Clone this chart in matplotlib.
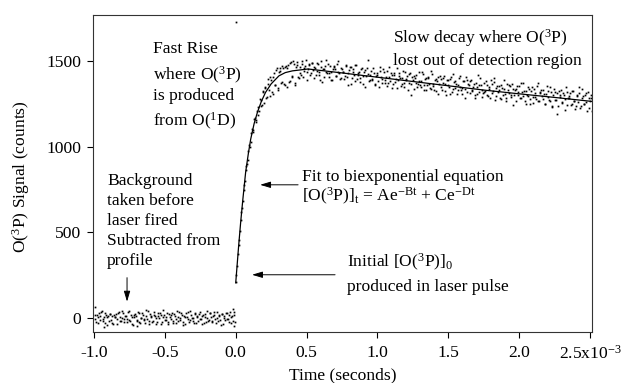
import numpy as np
import matplotlib
matplotlib.use("Agg")
import matplotlib.pyplot as plt

plt.rcParams['font.family'] = ['Liberation Serif', 'DejaVu Serif']
plt.rcParams['mathtext.fontset'] = 'custom'
plt.rcParams['mathtext.rm'] = 'Liberation Serif'
plt.rcParams['mathtext.it'] = 'Liberation Serif:italic'
plt.rcParams['font.size'] = 12.6

# background before the laser fires (time in ms)
bg_t = [-0.995, -0.985, -0.975, -0.965, -0.955, -0.945, -0.935, -0.925, -0.915, -0.905,
        -0.895, -0.885, -0.875, -0.865, -0.855, -0.845, -0.835, -0.825, -0.815, -0.805,
        -0.795, -0.785, -0.775, -0.765, -0.755, -0.745, -0.735, -0.725, -0.715, -0.705,
        -0.695, -0.685, -0.675, -0.665, -0.655, -0.645, -0.635, -0.625, -0.615, -0.605,
        -0.595, -0.585, -0.575, -0.565, -0.555, -0.545, -0.535, -0.525, -0.515, -0.505,
        -0.495, -0.485, -0.475, -0.465, -0.455, -0.445, -0.435, -0.425, -0.415, -0.405,
        -0.395, -0.385, -0.375, -0.365, -0.355, -0.345, -0.335, -0.325, -0.315, -0.305,
        -0.295, -0.285, -0.275, -0.265, -0.255, -0.245, -0.235, -0.225, -0.215, -0.205,
        -0.195, -0.185, -0.175, -0.165, -0.155, -0.145, -0.135, -0.125, -0.115, -0.105,
        -0.095, -0.085, -0.075, -0.065, -0.055, -0.045, -0.035, -0.025, -0.015, -0.005,
        -0.99, -0.93, -0.70, -0.02, -0.01]
bg_y = [15, -22, 8, 30, -12, 40, -5, -30, 18, 3,
        -18, 25, 10, -35, 5, 22, -8, 33, -15, 0,
        28, -25, 12, -4, 38, -20, 7, -42, 20, 14,
        -10, 30, -28, 2, 17, -14, 45, -6, -33, 24,
        9, -19, 35, -2, -26, 11, 27, -38, 6, 19,
        -12, 31, -23, 4, 16, -30, 22, -7, 42, -16,
        1, 26, -21, 13, -36, 8, 34, -11, 18, -3,
        -27, 21, 5, -15, 37, -9, 12, -32, 25, -1,
        -20, 29, 3, -24, 15, -6, 33, -18, 10, -40,
        23, 0, -13, 30, -8, 19, -29, 14, 36, -22,
        62, -55, -45, 55, -48]
bg_t2 = [-0.99, -0.98, -0.97, -0.96, -0.95, -0.94, -0.93, -0.92, -0.91, -0.90,
         -0.89, -0.88, -0.87, -0.86, -0.85, -0.84, -0.83, -0.82, -0.81, -0.80,
         -0.79, -0.78, -0.77, -0.76, -0.75, -0.74, -0.73, -0.72, -0.71, -0.70,
         -0.69, -0.68, -0.67, -0.66, -0.65, -0.64, -0.63, -0.62, -0.61, -0.60,
         -0.59, -0.58, -0.57, -0.56, -0.55, -0.54, -0.53, -0.52, -0.51, -0.50,
         -0.49, -0.48, -0.47, -0.46, -0.45, -0.44, -0.43, -0.42, -0.41, -0.40,
         -0.39, -0.38, -0.37, -0.36, -0.35, -0.34, -0.33, -0.32, -0.31, -0.30,
         -0.29, -0.28, -0.27, -0.26, -0.25, -0.24, -0.23, -0.22, -0.21, -0.20,
         -0.19, -0.18, -0.17, -0.16, -0.15, -0.14, -0.13, -0.12, -0.11, -0.10,
         -0.09, -0.08, -0.07, -0.06, -0.05, -0.04, -0.03, -0.02, -0.01]
bg_y2 = [-8, 20, -30, 12, 35, -18, 4, 26, -40, 10,
         22, -12, -28, 16, 3, -35, 30, 8, -20, 42,
         -5, 14, -24, 33, -10, 18, -38, 6, 25, -15,
         37, -22, 2, 28, -8, -30, 12, 40, -17, 5,
         -26, 20, 9, -34, 31, -3, 15, -21, 44, -12,
         7, -36, 24, -6, 29, -19, 11, -28, 3, 34,
         -14, 19, -40, 8, 26, -9, -23, 38, 1, -16,
         30, -31, 13, 22, -5, -37, 17, 6, -25, 41,
         -11, 27, -20, 9, 33, -29, 2, 18, -13, 24,
         -34, 10, 28, -7, -22, 36, 4, -18, 15]

# fast rise after the laser pulse
rise_t = [0.00, 0.01, 0.02, 0.03, 0.04, 0.05, 0.06, 0.07, 0.08, 0.09,
          0.10, 0.11, 0.12, 0.13, 0.14, 0.15, 0.16, 0.17, 0.18, 0.19,
          0.20, 0.21, 0.22, 0.23, 0.24, 0.25, 0.26, 0.27, 0.28, 0.29,
          0.30, 0.31, 0.32, 0.33, 0.34, 0.35, 0.36, 0.37, 0.38, 0.39,
          0.40, 0.41, 0.42, 0.43, 0.44, 0.00]
rise_y = [210, 302, 425, 509, 617, 680, 778, 866, 898, 975,
          997, 1080, 1085, 1160, 1143, 1210, 1187, 1275, 1237, 1322,
          1255, 1346, 1292, 1393, 1295, 1388, 1306, 1430, 1359, 1457,
          1330, 1444, 1371, 1473, 1364, 1467, 1345, 1477, 1384, 1493,
          1412, 1482, 1370, 1476, 1407, 1730]
rise_t2 = [0.005, 0.015, 0.025, 0.035, 0.045, 0.055, 0.065, 0.075, 0.085, 0.095,
           0.105, 0.115, 0.125, 0.135, 0.145, 0.155, 0.165, 0.175, 0.185, 0.195,
           0.205, 0.215, 0.225, 0.235, 0.245, 0.255, 0.265, 0.275, 0.285, 0.295,
           0.305, 0.315, 0.325, 0.335, 0.345, 0.355, 0.365, 0.375, 0.385, 0.395,
           0.405, 0.415, 0.425, 0.435, 0.445]
rise_y2 = [252, 371, 455, 572, 641, 744, 799, 889, 922, 1008,
           1024, 1102, 1098, 1165, 1153, 1233, 1210, 1271, 1240, 1316,
           1343, 1283, 1367, 1329, 1405, 1316, 1408, 1360, 1448, 1341,
           1433, 1460, 1375, 1457, 1358, 1471, 1461, 1378, 1488, 1406,
           1498, 1359, 1465, 1491, 1398]

# slow decay
decay_t = [0.45, 0.46, 0.47, 0.48, 0.49, 0.50, 0.51, 0.52, 0.53, 0.54,
           0.55, 0.56, 0.57, 0.58, 0.59, 0.60, 0.61, 0.62, 0.63, 0.64,
           0.65, 0.66, 0.67, 0.68, 0.69, 0.70, 0.71, 0.72, 0.73, 0.74,
           0.75, 0.76, 0.77, 0.78, 0.79, 0.80, 0.81, 0.82, 0.83, 0.84,
           0.85, 0.86, 0.87, 0.88, 0.89, 0.90, 0.91, 0.92, 0.93, 0.94,
           0.95, 0.96, 0.97, 0.98, 0.99, 1.00, 1.01, 1.02, 1.03, 1.04,
           1.05, 1.06, 1.07, 1.08, 1.09, 1.10, 1.11, 1.12, 1.13, 1.14,
           1.15, 1.16, 1.17, 1.18, 1.19, 1.20, 1.21, 1.22, 1.23, 1.24,
           1.25, 1.26, 1.27, 1.28, 1.29, 1.30, 1.31, 1.32, 1.33, 1.34,
           1.35, 1.36, 1.37, 1.38, 1.39, 1.40, 1.41, 1.42, 1.43, 1.44,
           1.45, 1.46, 1.47, 1.48, 1.49, 1.50, 1.51, 1.52, 1.53, 1.54,
           1.55, 1.56, 1.57, 1.58, 1.59, 1.60, 1.61, 1.62, 1.63, 1.64,
           1.65, 1.66, 1.67, 1.68, 1.69, 1.70, 1.71, 1.72, 1.73, 1.74,
           1.75, 1.76, 1.77, 1.78, 1.79, 1.80, 1.81, 1.82, 1.83, 1.84,
           1.85, 1.86, 1.87, 1.88, 1.89, 1.90, 1.91, 1.92, 1.93, 1.94,
           1.95, 1.96, 1.97, 1.98, 1.99, 2.00, 2.01, 2.02, 2.03, 2.04,
           2.05, 2.06, 2.07, 2.08, 2.09, 2.10, 2.11, 2.12, 2.13, 2.14,
           2.15, 2.16, 2.17, 2.18, 2.19, 2.20, 2.21, 2.22, 2.23, 2.24,
           2.25, 2.26, 2.27, 2.28, 2.29, 2.30, 2.31, 2.32, 2.33, 2.34,
           2.35, 2.36, 2.37, 2.38, 2.39, 2.40, 2.41, 2.42, 2.43, 2.44,
           2.45, 2.46, 2.47, 2.48, 2.49, 2.50, 2.51, 2.52]
decay_y = [1462, 1415, 1498, 1442, 1472, 1390, 1455, 1480, 1432, 1490,
           1403, 1460, 1440, 1483, 1420, 1500, 1375, 1455, 1473, 1433,
           1480, 1406, 1438, 1386, 1469, 1454, 1414, 1498, 1427, 1398,
           1452, 1433, 1412, 1475, 1362, 1447, 1462, 1399, 1436, 1383,
           1476, 1415, 1434, 1398, 1458, 1363, 1445, 1411, 1503, 1385,
           1420, 1390, 1458, 1368, 1412, 1430, 1346, 1439, 1397, 1453,
           1373, 1407, 1351, 1465, 1385, 1418, 1363, 1428, 1397, 1341,
           1431, 1403, 1367, 1442, 1345, 1397, 1414, 1373, 1427, 1300,
           1391, 1410, 1374, 1346, 1437, 1359, 1383, 1426, 1328, 1398,
           1361, 1406, 1342, 1439, 1367, 1330, 1394, 1385, 1308, 1410,
           1345, 1370, 1411, 1324, 1387, 1360, 1306, 1404, 1337, 1378,
           1384, 1305, 1358, 1412, 1333, 1344, 1380, 1286, 1386, 1364,
           1313, 1391, 1330, 1364, 1301, 1348, 1416, 1316, 1358, 1290,
           1371, 1324, 1360, 1298, 1335, 1388, 1313, 1377, 1273, 1344,
           1319, 1355, 1279, 1344, 1386, 1309, 1286, 1332, 1360, 1299,
           1363, 1244, 1328, 1339, 1303, 1354, 1281, 1317, 1372, 1266,
           1324, 1298, 1335, 1248, 1350, 1287, 1315, 1277, 1370, 1265,
           1318, 1293, 1333, 1246, 1309, 1324, 1274, 1348, 1231, 1302,
           1320, 1272, 1191, 1327, 1303, 1255, 1310, 1280, 1345, 1242,
           1286, 1310, 1251, 1324, 1265, 1238, 1298, 1347, 1228, 1281,
           1297, 1251, 1310, 1210, 1284, 1266, 1303, 1238]
decay_t2 = [0.455, 0.465, 0.475, 0.485, 0.495, 0.505, 0.515, 0.525, 0.535, 0.545,
            0.555, 0.565, 0.575, 0.585, 0.595, 0.605, 0.615, 0.625, 0.635, 0.645,
            0.655, 0.665, 0.675, 0.685, 0.695, 0.705, 0.715, 0.725, 0.735, 0.745,
            0.755, 0.765, 0.775, 0.785, 0.795, 0.805, 0.815, 0.825, 0.835, 0.845,
            0.855, 0.865, 0.875, 0.885, 0.895, 0.905, 0.915, 0.925, 0.935, 0.945,
            0.955, 0.965, 0.975, 0.985, 0.995, 1.005, 1.015, 1.025, 1.035, 1.045,
            1.055, 1.065, 1.075, 1.085, 1.095, 1.105, 1.115, 1.125, 1.135, 1.145,
            1.155, 1.165, 1.175, 1.185, 1.195, 1.205, 1.215, 1.225, 1.235, 1.245,
            1.255, 1.265, 1.275, 1.285, 1.295, 1.305, 1.315, 1.325, 1.335, 1.345,
            1.355, 1.365, 1.375, 1.385, 1.395, 1.405, 1.415, 1.425, 1.435, 1.445,
            1.455, 1.465, 1.475, 1.485, 1.495, 1.505, 1.515, 1.525, 1.535, 1.545,
            1.555, 1.565, 1.575, 1.585, 1.595, 1.605, 1.615, 1.625, 1.635, 1.645,
            1.655, 1.665, 1.675, 1.685, 1.695, 1.705, 1.715, 1.725, 1.735, 1.745,
            1.755, 1.765, 1.775, 1.785, 1.795, 1.805, 1.815, 1.825, 1.835, 1.845,
            1.855, 1.865, 1.875, 1.885, 1.895, 1.905, 1.915, 1.925, 1.935, 1.945,
            1.955, 1.965, 1.975, 1.985, 1.995, 2.005, 2.015, 2.025, 2.035, 2.045,
            2.055, 2.065, 2.075, 2.085, 2.095, 2.105, 2.115, 2.125, 2.135, 2.145,
            2.155, 2.165, 2.175, 2.185, 2.195, 2.205, 2.215, 2.225, 2.235, 2.245,
            2.255, 2.265, 2.275, 2.285, 2.295, 2.305, 2.315, 2.325, 2.335, 2.345,
            2.355, 2.365, 2.375, 2.385, 2.395, 2.405, 2.415, 2.425, 2.435, 2.445,
            2.455, 2.465, 2.475, 2.485, 2.495, 2.505, 2.515]
decay_y2 = [1430, 1480, 1405, 1458, 1505, 1438, 1475, 1415, 1490, 1445,
            1463, 1417, 1487, 1435, 1390, 1467, 1450, 1407, 1505, 1430,
            1428, 1471, 1386, 1451, 1464, 1414, 1484, 1433, 1396, 1456,
            1437, 1395, 1472, 1409, 1430, 1465, 1367, 1452, 1420, 1479,
            1393, 1432, 1376, 1451, 1412, 1438, 1348, 1458, 1426, 1388,
            1444, 1393, 1430, 1360, 1420, 1380, 1463, 1406, 1372, 1435,
            1387, 1443, 1369, 1405, 1429, 1344, 1417, 1379, 1461, 1391,
            1414, 1352, 1400, 1374, 1437, 1386, 1328, 1423, 1365, 1405,
            1335, 1400, 1418, 1366, 1385, 1350, 1438, 1358, 1392, 1330,
            1399, 1363, 1336, 1421, 1351, 1387, 1323, 1406, 1368, 1393,
            1331, 1403, 1368, 1303, 1386, 1349, 1395, 1321, 1421, 1343,
            1366, 1328, 1398, 1346, 1307, 1382, 1337, 1404, 1319, 1360,
            1383, 1325, 1345, 1281, 1369, 1307, 1361, 1398, 1333, 1315,
            1319, 1381, 1301, 1345, 1283, 1363, 1327, 1398, 1295, 1353,
            1332, 1284, 1360, 1302, 1339, 1264, 1368, 1314, 1352, 1289,
            1336, 1302, 1266, 1352, 1320, 1284, 1372, 1294, 1327, 1249,
            1299, 1345, 1280, 1323, 1253, 1335, 1291, 1353, 1267, 1315,
            1331, 1276, 1308, 1251, 1354, 1288, 1264, 1320, 1236, 1338,
            1271, 1314, 1236, 1292, 1330, 1261, 1301, 1216, 1318, 1282,
            1297, 1242, 1327, 1267, 1222, 1303, 1259, 1315, 1235, 1339,
            1246, 1304, 1260, 1316, 1228, 1282, 1208]

# biexponential fit curve
fit_t = [0.0, 0.01, 0.02, 0.035, 0.05, 0.07, 0.09, 0.106, 0.13, 0.153, 0.18, 0.21,
         0.25, 0.305, 0.35, 0.40, 0.51, 0.75, 1.0, 1.25, 1.5, 1.75, 2.0, 2.25, 2.51]
fit_y = [205, 310, 415, 560, 690, 851, 965, 1045, 1135, 1200, 1262, 1316,
         1366, 1413, 1432, 1442, 1453, 1430, 1405, 1380, 1355, 1330, 1308, 1287, 1264]

xticks = [-1.0, -0.5, 0.0, 0.5, 1.0, 1.5, 2.0, 2.5]
xtick_labels = ['-1.0', '-0.5', '0.0', '0.5', '1.0', '1.5', '2.0', '2.5x10$^{-3}$']
yticks = [0, 500, 1000, 1500]

fig = plt.figure(figsize=(6.21, 3.83), dpi=100)
ax = fig.add_axes([0.1498, 0.1332, 0.8035, 0.8276])

dot = dict(ls='none', marker='s', ms=1.25, color='black', mew=0)
for t, y in [(bg_t, bg_y), (bg_t2, bg_y2), (rise_t, rise_y), (rise_t2, rise_y2),
             (decay_t, decay_y), (decay_t2, decay_y2)]:
    ax.plot(t, y, **dot)
ax.plot(fit_t, fit_y, color='black', lw=0.9)

ax.set_xlim(-1.007, 2.514)
ax.set_ylim(-82, 1768)
ax.set_xticks(xticks)
ax.set_xticklabels(xtick_labels)
ax.set_yticks(yticks)
ax.tick_params(direction='out', length=4.5, width=0.8, pad=4, labelsize=12.6)
ax.tick_params(axis='x', pad=5)
for s in ax.spines.values():
    s.set_linewidth(0.8)
    s.set_color('#333333')

ax.set_ylabel('O($^3$P) Signal (counts)', fontsize=12.6)
ax.yaxis.set_label_coords(-0.122, 0.49)
ax.set_xlabel('Time (seconds)', fontsize=12.6)
ax.xaxis.set_label_coords(0.5, -0.112)

fs = 12.6
def lines(x, ys, texts):
    for y, t in zip(ys, texts):
        ax.text(x, y, t, fontsize=fs, va='baseline', ha='left')

lines(-0.584, [1547, 1390, 1273, 1121],
      ['Fast Rise', 'where O($^3$P)', 'is produced', 'from O($^1$D)'])
lines(-0.908, [777, 661, 544, 427, 311],
      ['Background', 'taken before', 'laser fired', 'Subtracted from', 'profile'])
lines(0.468, [800, 680],
      ['Fit to biexponential equation',
       '[O($^3$P)]$_\\mathregular{t}$ = Ae$^\\mathregular{-Bt}$ + Ce$^\\mathregular{-Dt}$'])
lines(0.786, [299, 159],
      ['Initial [O($^3$P)]$_0$', 'produced in laser pulse'])
lines(1.110, [1605, 1477],
      ['Slow decay where O($^3$P)', 'lost out of detection region'])

arr = dict(arrowstyle='-|>,head_length=0.5,head_width=0.15', color='black', lw=0.7,
           shrinkA=0, shrinkB=0)
ax.annotate('', xy=(-0.767, 95), xytext=(-0.767, 235), arrowprops=arr)
ax.annotate('', xy=(0.172, 777), xytext=(0.440, 777), arrowprops=arr)
ax.annotate('', xy=(0.115, 252), xytext=(0.701, 252), arrowprops=arr)

fig.savefig('out.png', dpi=100)
